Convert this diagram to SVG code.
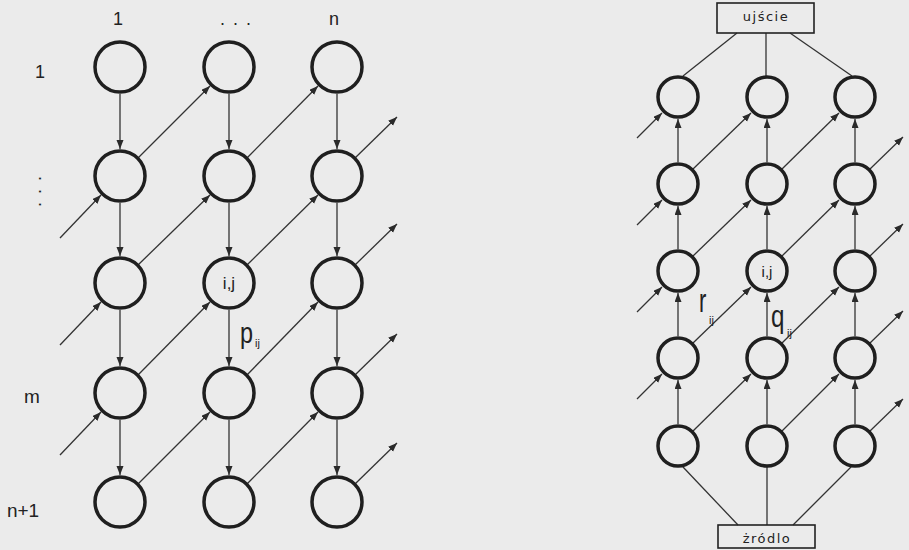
<svg xmlns="http://www.w3.org/2000/svg" width="909" height="550" viewBox="0 0 909 550">
<defs>
<marker id="ah" markerUnits="userSpaceOnUse" markerWidth="10" markerHeight="8" refX="9" refY="3.5" orient="auto">
<path d="M0,0 L9,3.5 L0,7 z" fill="#2a2a2a"/>
</marker>
<style>
.n{fill:none;stroke:#1f1f1f;stroke-width:3.5}
.a{stroke:#333;stroke-width:1.3;fill:none;marker-end:url(#ah)}
.l{stroke:#333;stroke-width:1.3;fill:none}
.t{font-family:"Liberation Sans",Arial,sans-serif;fill:#222}
.b{fill:none;stroke:#222;stroke-width:1.6}
.bt{font-family:"DejaVu Sans",sans-serif;font-size:13px;letter-spacing:1.5px;fill:#222;text-anchor:middle}
</style>
</defs>
<rect width="909" height="550" fill="#ebebeb"/>

<g id="connectors">
<!-- left verticals -->
<line class="a" x1="120" y1="94" x2="120" y2="149"/>
<line class="a" x1="120" y1="203" x2="120" y2="256"/>
<line class="a" x1="120" y1="310" x2="120" y2="366"/>
<line class="a" x1="120" y1="420" x2="120" y2="475"/>
<line class="a" x1="229" y1="94" x2="229" y2="149"/>
<line class="a" x1="229" y1="203" x2="229" y2="256"/>
<line class="a" x1="229" y1="310" x2="229" y2="366"/>
<line class="a" x1="229" y1="420" x2="229" y2="475"/>
<line class="a" x1="337" y1="94" x2="337" y2="149"/>
<line class="a" x1="337" y1="203" x2="337" y2="256"/>
<line class="a" x1="337" y1="310" x2="337" y2="366"/>
<line class="a" x1="337" y1="420" x2="337" y2="475"/>
<!-- left diagonals -->
<line class="a" x1="138" y1="158" x2="210" y2="86"/>
<line class="a" x1="247" y1="158" x2="318" y2="86"/>
<line class="a" x1="138" y1="265" x2="210" y2="195"/>
<line class="a" x1="247" y1="265" x2="318" y2="195"/>
<line class="a" x1="138" y1="375" x2="210" y2="302"/>
<line class="a" x1="247" y1="375" x2="318" y2="302"/>
<line class="a" x1="138" y1="484" x2="210" y2="412"/>
<line class="a" x1="247" y1="484" x2="318" y2="412"/>
<line class="a" x1="60" y1="238" x2="101" y2="195"/>
<line class="a" x1="60" y1="345" x2="101" y2="302"/>
<line class="a" x1="60" y1="455" x2="101" y2="412"/>
<line class="a" x1="355" y1="158" x2="397" y2="117"/>
<line class="a" x1="355" y1="265" x2="397" y2="224"/>
<line class="a" x1="355" y1="375" x2="397" y2="334"/>
<line class="a" x1="355" y1="484" x2="397" y2="443"/>
<!-- right verticals (upward) -->
<line class="a" x1="678" y1="162" x2="678" y2="119"/>
<line class="a" x1="678" y1="249" x2="678" y2="206"/>
<line class="a" x1="678" y1="336" x2="678" y2="293"/>
<line class="a" x1="678" y1="424" x2="678" y2="380"/>
<line class="a" x1="767" y1="162" x2="767" y2="119"/>
<line class="a" x1="767" y1="249" x2="767" y2="206"/>
<line class="a" x1="767" y1="336" x2="767" y2="293"/>
<line class="a" x1="767" y1="424" x2="767" y2="380"/>
<line class="a" x1="855" y1="162" x2="855" y2="119"/>
<line class="a" x1="855" y1="249" x2="855" y2="206"/>
<line class="a" x1="855" y1="336" x2="855" y2="293"/>
<line class="a" x1="855" y1="424" x2="855" y2="380"/>
<!-- right diagonals -->
<line class="a" x1="693" y1="169" x2="751" y2="113"/>
<line class="a" x1="782" y1="169" x2="839" y2="113"/>
<line class="a" x1="693" y1="256" x2="751" y2="200"/>
<line class="a" x1="782" y1="256" x2="839" y2="200"/>
<line class="a" x1="693" y1="343" x2="751" y2="287"/>
<line class="a" x1="782" y1="343" x2="839" y2="287"/>
<line class="a" x1="693" y1="431" x2="751" y2="374"/>
<line class="a" x1="782" y1="431" x2="839" y2="374"/>
<line class="a" x1="637" y1="138" x2="662" y2="113"/>
<line class="a" x1="637" y1="225" x2="662" y2="200"/>
<line class="a" x1="637" y1="312" x2="662" y2="287"/>
<line class="a" x1="637" y1="399" x2="662" y2="374"/>
<line class="a" x1="870" y1="169" x2="903" y2="137"/>
<line class="a" x1="870" y1="256" x2="903" y2="224"/>
<line class="a" x1="870" y1="343" x2="903" y2="311"/>
<line class="a" x1="870" y1="431" x2="903" y2="399"/>
<!-- box lines -->
<line class="l" x1="737" y1="33" x2="683" y2="76"/>
<line class="l" x1="766" y1="33" x2="766" y2="76"/>
<line class="l" x1="790" y1="33" x2="852" y2="76"/>
<line class="l" x1="738" y1="525" x2="683" y2="467"/>
<line class="l" x1="767" y1="525" x2="767" y2="467"/>
<line class="l" x1="793" y1="525" x2="851" y2="467"/>
</g>

<!-- left grid nodes -->
<g id="L11"><circle class="n" cx="120" cy="67" r="25"/></g>
<g id="L12"><circle class="n" cx="229" cy="67" r="25"/></g>
<g id="L13"><circle class="n" cx="337" cy="67" r="25"/></g>
<g id="L21"><circle class="n" cx="120" cy="176" r="25"/></g>
<g id="L22"><circle class="n" cx="229" cy="176" r="25"/></g>
<g id="L23"><circle class="n" cx="337" cy="176" r="25"/></g>
<g id="L31"><circle class="n" cx="120" cy="283" r="25"/></g>
<g id="L32"><circle class="n" cx="229" cy="283" r="25"/><text class="t" x="229" y="289" font-size="17" text-anchor="middle">i,j</text></g>
<g id="L33"><circle class="n" cx="337" cy="283" r="25"/></g>
<g id="L41"><circle class="n" cx="120" cy="393" r="25"/></g>
<g id="L42"><circle class="n" cx="229" cy="393" r="25"/></g>
<g id="L43"><circle class="n" cx="337" cy="393" r="25"/></g>
<g id="L51"><circle class="n" cx="120" cy="502" r="25"/></g>
<g id="L52"><circle class="n" cx="229" cy="502" r="25"/></g>
<g id="L53"><circle class="n" cx="337" cy="502" r="25"/></g>

<!-- left labels -->
<g id="left-labels">
<text class="t" x="118" y="25" font-size="18" text-anchor="middle">1</text>
<text class="t" x="220" y="25" font-size="18" letter-spacing="1.5">. . .</text>
<text class="t" x="334" y="25" font-size="18" text-anchor="middle">n</text>
<text class="t" x="40" y="78" font-size="18" text-anchor="middle">1</text>
<text class="t" font-size="18" letter-spacing="1.5" transform="translate(39,176) rotate(90)">. . .</text>
<text class="t" x="32" y="403" font-size="19" text-anchor="middle">m</text>
<text class="t" x="23" y="517" font-size="19" text-anchor="middle">n+1</text>
<text class="t" font-size="30" transform="translate(240,343) scale(0.78,1)">p</text>
<text class="t" x="255" y="347" font-size="11">ij</text>
</g>

<!-- right grid nodes -->
<g id="ujscie"><rect class="b" x="717" y="3" width="97" height="30"/><text class="bt" x="766" y="21">ujście</text></g>
<g id="zrodlo"><rect class="b" x="718" y="525" width="97" height="23"/><text class="bt" x="767" y="543">żródlo</text></g>
<g id="R11"><circle class="n" cx="678" cy="97" r="20"/></g>
<g id="R12"><circle class="n" cx="767" cy="97" r="20"/></g>
<g id="R13"><circle class="n" cx="855" cy="97" r="20"/></g>
<g id="R21"><circle class="n" cx="678" cy="184" r="20"/></g>
<g id="R22"><circle class="n" cx="767" cy="184" r="20"/></g>
<g id="R23"><circle class="n" cx="855" cy="184" r="20"/></g>
<g id="R31"><circle class="n" cx="678" cy="271" r="20"/></g>
<g id="R32"><circle class="n" cx="767" cy="271" r="20"/><text class="t" x="767" y="277" font-size="15" text-anchor="middle">i,j</text></g>
<g id="R33"><circle class="n" cx="855" cy="271" r="20"/></g>
<g id="R41"><circle class="n" cx="678" cy="358" r="20"/></g>
<g id="R42"><circle class="n" cx="767" cy="358" r="20"/></g>
<g id="R43"><circle class="n" cx="855" cy="358" r="20"/></g>
<g id="R51"><circle class="n" cx="678" cy="446" r="20"/></g>
<g id="R52"><circle class="n" cx="767" cy="446" r="20"/></g>
<g id="R53"><circle class="n" cx="855" cy="446" r="20"/></g>

<g id="right-labels">
<text class="t" font-size="34" transform="translate(699,312) scale(0.65,1)">r</text>
<text class="t" x="709" y="324" font-size="11">ij</text>
<text class="t" font-size="31" transform="translate(771,327) scale(0.78,1)">q</text>
<text class="t" x="787" y="337" font-size="11">ij</text>
</g>
</svg>
